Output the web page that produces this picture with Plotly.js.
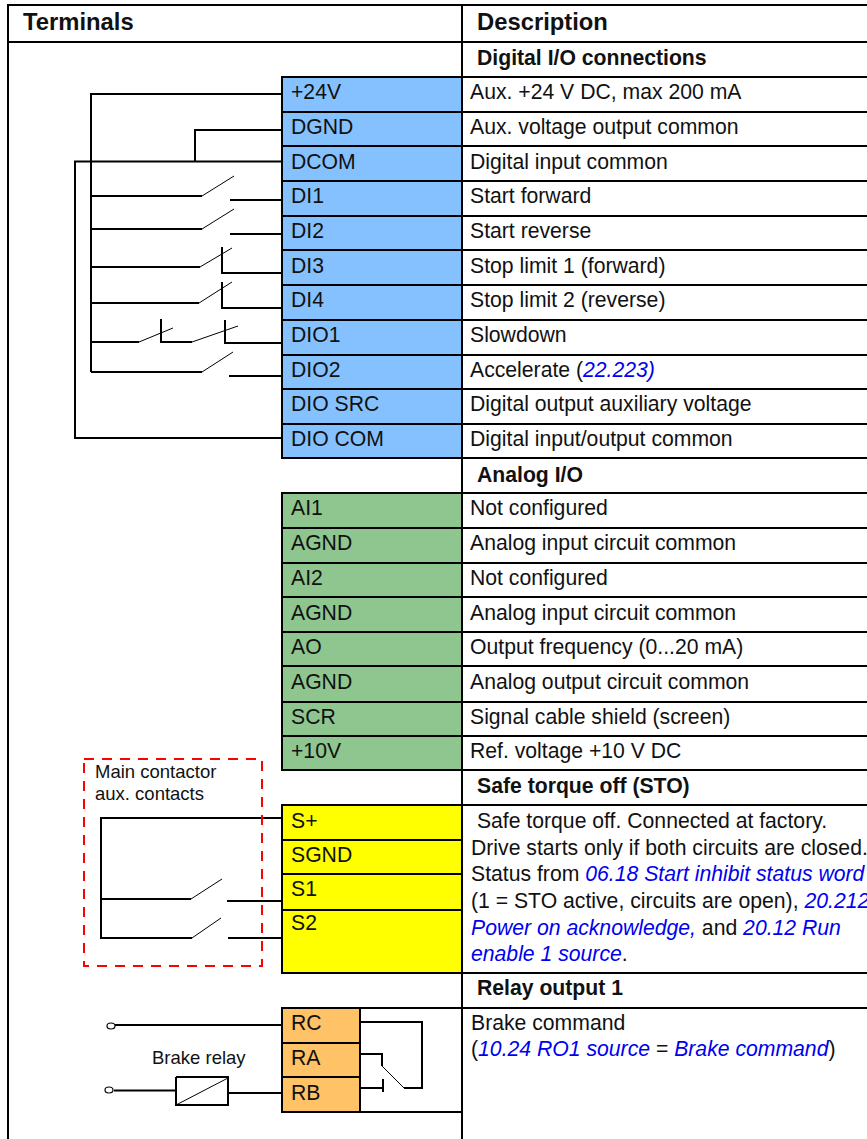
<!DOCTYPE html>
<html><head><meta charset="utf-8">
<script src="https://cdn.plot.ly/plotly-3.0.1.min.js"></script>
<style>html,body{margin:0;padding:0;background:#fff;overflow:hidden}#g{width:867px;height:1139px}</style>
</head><body><div id="g"></div>
<script>
const FONT='"Liberation Sans", Arial, sans-serif';
const INK='#111111', LINK='#0000f0';
const lnk=s=>'<span style="color:'+LINK+'"><i>'+s+'</i></span>';

const blockColors={blue:'#85c1ff',green:'#8fc58f',yellow:'#ffff00',orange:'#ffc266'};
// terminal blocks: [x0,x1,y0,y1,color]
const blocks=[[282,462,77,458,'blue'],[282,462,493,770,'green'],[282,462,805,973,'yellow'],[282,360,1008,1112,'orange']];

const blueLabels=['+24V','DGND','DCOM','DI1','DI2','DI3','DI4','DIO1','DIO2','DIO SRC','DIO COM'];
const blueY=[91.5,126.5,161.5,195.5,230.5,265.5,299.5,334.5,369.5,403.5,438.5];
const blueDesc=['Aux. +24 V DC, max 200 mA','Aux. voltage output common','Digital input common','Start forward','Start reverse','Stop limit 1 (forward)','Stop limit 2 (reverse)','Slowdown','Accelerate ('+lnk('22.223)'),'Digital output auxiliary voltage','Digital input/output common'];
const greenLabels=['AI1','AGND','AI2','AGND','AO','AGND','SCR','+10V'];
const greenY=[507.5,542.5,577.5,612.5,646.5,681.5,716.5,750.5];
const greenDesc=['Not configured','Analog input circuit common','Not configured','Analog input circuit common','Output frequency (0...20 mA)','Analog output circuit common','Signal cable shield (screen)','Ref. voltage +10 V DC'];
const yellowLabels=['S+','SGND','S1','S2'];
const yellowY=[820.5,854.5,888.5,922.5];
const orangeLabels=['RC','RA','RB'];
const orangeY=[1022.5,1057.5,1092.5];
const sections=['Digital I/O connections','Analog I/O','Safe torque off (STO)','Relay output 1'];
const sectionY=[57.5,474.5,785.5,987.5];
const stoLines=[' Safe torque off. Connected at factory.','Drive starts only if both circuits are closed.','Status from '+lnk('06.18 Start inhibit status word'),'(1 = STO active, circuits are open), '+lnk('20.212'),lnk('Power on acknowledge,')+' and '+lnk('20.12 Run'),lnk('enable 1 source')+'.'];
const stoX=[471,471,471,471,471,471];
const stoY=[820.5,847.5,873.5,900.5,927.5,953.5];
const relayLines=['Brake command','('+lnk('10.24 RO1 source')+' = '+lnk('Brake command')+')'];
const relayY=[1022.5,1048.5];

// table rules
const fullRowY=[112,146,181,216,250,285,320,355,389,424,528,563,597,632,666,702,736,77,458,493,770,805,973,1008];
const blockOnlyY=[840,874,910,1043,1077];
const tableLines=[
 [[8,867],[5,5]],[[8,867],[42,42]],[[8,8],[4,1139]],[[462,462],[5,1139]],
 [[282,282],[76,459]],[[282,282],[492,771]],[[282,282],[804,974]],[[282,282],[1007,1113]],[[360,360],[1008,1112]],[[282,462],[1112,1112]]
];

// thick wires, as polylines
const wires=[
 [[282,91,91],[94,94,372]],[[282,195,195],[130,130,161]],[[282,75,75,282],[161.5,161.5,438,438]],
 [[91,202],[196,196]],[[230,282],[200,200]],
 [[91,202],[229,229]],[[230,282],[234,234]],
 [[91,200],[267,267]],[[222,222,282],[247,273,273]],
 [[91,199],[303,303]],[[222,222,282],[282,308,308]],
 [[91,139],[342,342]],[[161,161,192],[319,342,342]],[[225,225],[320,344]],[[225,282],[343,343]],
 [[91,202],[372,372]],[[229,282],[376,376]],
 [[282,100],[818,818]],[[101,101],[818,938]],[[101,191],[899,899]],[[227,282],[901,901]],
 [[100,192],[938,938]],[[228,282],[938,938]],
 [[115,282],[1025,1025]],[[114,177],[1090.5,1090.5]],[[176,228,228,176,176],[1077,1077,1105,1105,1077]],[[228,282],[1093,1093]],
 [[360,422,422,404],[1022,1022,1088,1088]],[[360,382,382],[1054,1054,1066]],[[360,383],[1088,1088]],[[383,383],[1079,1092]]
];
// thin switch blades
const blades=[
 [[202,234],[196,176]],[[202,234],[229,209]],[[200,232],[267,248]],[[199,232],[303,282]],
 [[139,173],[342,328]],[[192,238],[342,326]],[[202,233],[372,352]],
 [[191,222],[899,879]],[[192,221],[938,918]],[[176,228],[1105,1078]],[[404,382],[1088,1066]]
];
const redBox=[[84,262,262,84,84],[759,759,966,966,759]];
const coils=[[111,1026],[109,1090]];

function path(list){const x=[],y=[];list.forEach(p=>{x.push(...p[0],null);y.push(...p[1],null);});return {x,y};}
fullRowY.forEach(y=>tableLines.push([[282,867],[y,y]]));
blockOnlyY.forEach(y=>tableLines.push([[282,y>1000?360:462],[y,y]]));

const tr=(p,c,w,dash)=>({type:'scatter',mode:'lines',x:p.x,y:p.y,hoverinfo:'skip',line:{color:c,width:w,dash:dash||'solid'}});
const data=[tr(path(tableLines),'#000',2),tr(path(wires),'#000',2),tr(path(blades),'#000',1),tr({x:redBox[0],y:redBox[1]},'#ff0000',2,'10px,8px')];

const shapes=blocks.map(b=>({type:'rect',layer:'below',xref:'x',yref:'y',x0:b[0],x1:b[1],y0:b[2],y1:b[3],fillcolor:blockColors[b[4]],line:{width:0}}));
coils.forEach(c=>shapes.push({type:'circle',xref:'x',yref:'y',x0:c[0]-4,x1:c[0]+4,y0:c[1]-3,y1:c[1]+3,fillcolor:'#fff',line:{color:'#000',width:1.2}}));

const ann=[];
const t=(text,x,y,size,bold)=>ann.push({text:bold?'<b>'+text+'</b>':text,x,y,xref:'x',yref:'y',xanchor:'left',yanchor:'middle',showarrow:false,align:'left',borderpad:0,borderwidth:0,font:{family:FONT,size,color:INK}});
const SZ=21.2;
t('Terminals',23,21,23.8,true);t('Description',477,21,23.8,true);
sections.forEach((s,i)=>t(s,477,sectionY[i],SZ,true));
blueLabels.forEach((s,i)=>t(s,290.5,blueY[i],SZ));blueDesc.forEach((s,i)=>t(s,470,blueY[i],SZ));
greenLabels.forEach((s,i)=>t(s,290.5,greenY[i],SZ));greenDesc.forEach((s,i)=>t(s,470,greenY[i],SZ));
yellowLabels.forEach((s,i)=>t(s,290.5,yellowY[i],SZ));orangeLabels.forEach((s,i)=>t(s,290.5,orangeY[i],SZ));
stoLines.forEach((s,i)=>t(s,stoX[i],stoY[i],SZ));relayLines.forEach((s,i)=>t(s,471,relayY[i],SZ));
t('Main contactor',95,771.5,18.5);t('aux. contacts',95,793.5,18.5);t('Brake relay',152,1057.5,18.5);

Plotly.newPlot('g',data,{width:867,height:1139,margin:{l:0,r:0,t:0,b:0},showlegend:false,paper_bgcolor:'#fff',plot_bgcolor:'#fff',
 xaxis:{range:[0,867],visible:false,fixedrange:true},yaxis:{range:[1139,0],visible:false,fixedrange:true},shapes,annotations:ann},{displayModeBar:false,staticPlot:true});
</script></body></html>
